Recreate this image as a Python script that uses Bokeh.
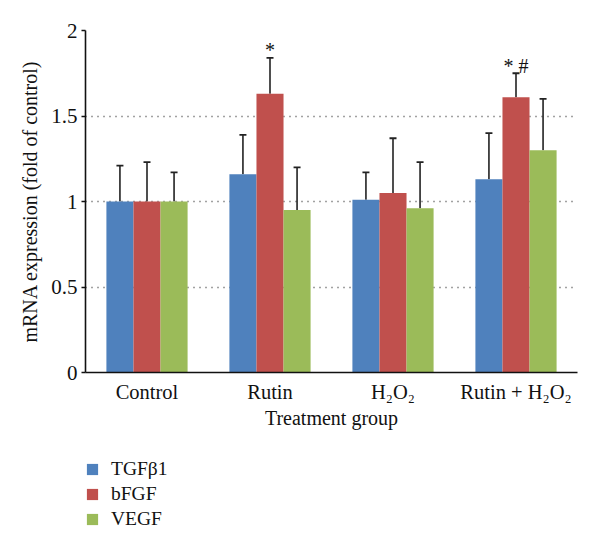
from bokeh.plotting import figure
from bokeh.layouts import column
from bokeh.models import (ColumnDataSource, FactorRange, Range1d, FixedTicker, Whisker,
                          TeeHead, Legend, LegendItem)
from bokeh.transform import dodge
from bokeh.core.properties import value
from bokeh.embed import file_html
from bokeh.resources import INLINE

# ---- data ----
groups = ["Control", "Rutin", "H\u2082O\u2082", "Rutin + H\u2082O\u2082"]
series = ["TGF\u03b21", "bFGF", "VEGF"]
tgf = [1.00, 1.16, 1.01, 1.13]
tgf_sd = [0.21, 0.23, 0.16, 0.27]
bfgf = [1.00, 1.63, 1.05, 1.61]
bfgf_sd = [0.23, 0.21, 0.32, 0.14]
vegf = [1.00, 0.95, 0.96, 1.30]
vegf_sd = [0.17, 0.25, 0.27, 0.30]
ann_labels = ["", "*", "", "* #"]
y_ticks = [0, 0.5, 1, 1.5, 2]

colors = ["#4F81BD", "#C0504D", "#9BBB59"]
FONT = "Liberation Serif"

p = figure(x_range=FactorRange(*groups), y_range=Range1d(0, 2),
           width=584, height=440, output_backend="svg", toolbar_location=None,
           min_border_left=85, min_border_right=7, min_border_top=30,
           min_border_bottom=68)
p.outline_line_color = None
p.xgrid.grid_line_color = None
p.ygrid.ticker = FixedTicker(ticks=y_ticks)
p.ygrid.grid_line_color = "#444444"
p.ygrid.grid_line_dash = "1 5"
p.ygrid.grid_line_width = 1.3

p.yaxis.ticker = FixedTicker(ticks=y_ticks)
p.yaxis.major_tick_out = 4
p.yaxis.major_tick_in = 0
p.yaxis.minor_tick_out = 0
p.yaxis.minor_tick_in = 0
p.yaxis.major_label_standoff = 4
p.yaxis.axis_label = "mRNA expression (fold of control)"
p.yaxis.axis_label_standoff = 7
p.xaxis.major_tick_out = 0
p.xaxis.major_tick_in = 0
p.xaxis.major_label_standoff = 8
p.xaxis.axis_label = "Treatment group"
p.xaxis.axis_label_standoff = 1
for ax in (p.xaxis, p.yaxis):
    ax.axis_line_color = "#111111"
    ax.axis_line_width = 1.6
    ax.major_tick_line_color = "#111111"
    ax.major_tick_line_width = 1.6
    ax.major_label_text_font = FONT
    ax.major_label_text_font_size = "20.5px"
    ax.major_label_text_color = "#111111"
    ax.axis_label_text_font = FONT
    ax.axis_label_text_font_size = "20px"
    ax.axis_label_text_font_style = "normal"
    ax.axis_label_text_color = "#111111"
p.yaxis.major_label_text_font_size = "21px"

# ---- legend panel below the chart (shares the category axis) ----
lg = figure(width=584, height=100, output_backend="svg", toolbar_location=None,
            x_range=p.x_range, y_range=Range1d(10, 11),
            min_border_left=85, min_border_right=7,
            min_border_top=0, min_border_bottom=0)
lg.axis.visible = False
lg.grid.visible = False
lg.outline_line_color = None

vals = [tgf, bfgf, vegf]
sds = [tgf_sd, bfgf_sd, vegf_sd]
offsets = [-0.22, 0.0, 0.22]
items = []
for name, v, sd, off, c in zip(series, vals, sds, offsets, colors):
    src = ColumnDataSource(dict(group=groups, mean=v,
                                top=[a + b for a, b in zip(v, sd)]))
    p.vbar(x=dodge("group", off, range=p.x_range), top="mean", width=0.22,
           source=src, fill_color=c, line_color=None)
    w = Whisker(base=dodge("group", off, range=p.x_range), upper="top", lower="mean",
                source=src, dimension="height", line_color="#222222", line_width=1.6,
                upper_head=TeeHead(size=7, line_color="#222222", line_width=1.8),
                lower_head=None)
    p.add_layout(w)
    # same bars in the legend panel (outside its visible y-range) to carry legend swatches
    r = lg.vbar(x=dodge("group", off, range=p.x_range), top="mean", width=0.22,
                source=src, fill_color=c, line_color=None)
    items.append(LegendItem(label=name, renderers=[r]))

# significance marks above bFGF bars
ag, ay, at = [], [], []
for g, lab, m, s in zip(groups, ann_labels, bfgf, bfgf_sd):
    if lab:
        ag.append(g)
        ay.append(m + s + 0.045)
        at.append(lab)
asrc = ColumnDataSource(dict(group=ag, y=ay, text=at))
p.text(x=dodge("group", 0.0, range=p.x_range), y="y", text="text", source=asrc,
       text_align="center", text_baseline="middle", text_font=value(FONT),
       text_font_size="20px", text_color="#111111")

legend = Legend(items=items, location=(0, 10), orientation="vertical",
                glyph_width=14, glyph_height=14, label_standoff=12, spacing=3,
                padding=0, margin=0, border_line_color=None,
                background_fill_alpha=0, label_text_font=FONT,
                label_text_font_size="19.5px", label_text_color="#111111")
lg.add_layout(legend, "center")

open("out.html", "w").write(file_html(column(p, lg, spacing=0), INLINE))
